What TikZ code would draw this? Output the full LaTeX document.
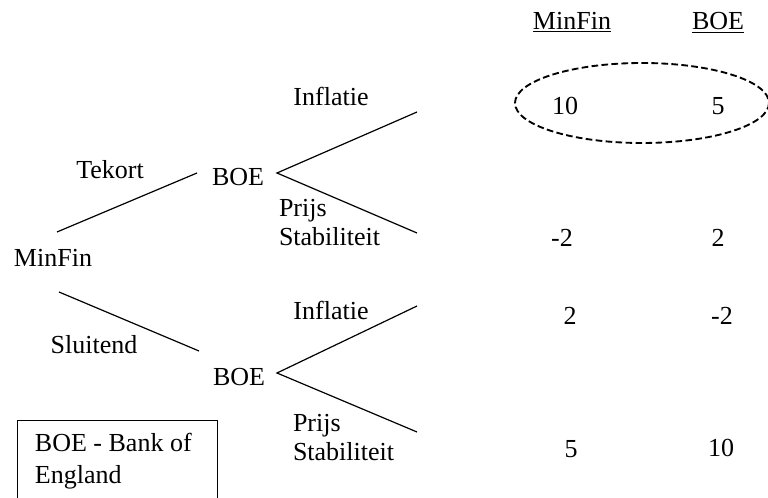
\documentclass[tikz,border=0pt]{standalone}
\usepackage{fontspec}
\setmainfont{Liberation Serif}
\begin{document}
\begin{tikzpicture}[x=0.75pt,y=-0.75pt,
  lbl/.style={inner sep=0pt, outer sep=0pt, font=\fontsize{19.5}{23}\selectfont, text height=0.66em, text depth=0pt, yshift=-3.2pt},
  branch/.style={line width=0.9pt},
  oval/.style={draw, dashed, dash pattern=on 5pt off 2.5pt, line width=1.4pt}
]
\useasboundingbox (0,0) rectangle (768,498);

% headers
\node[lbl] (hmf) at (572,21) {\underline{MinFin}};
\node[lbl] (hboe) at (718,21) {\underline{BOE}};

% players
\node[lbl] (mf) at (53,258) {MinFin};
\node[lbl] (b1) at (238,177) {BOE};
\node[lbl] (b2) at (239,377) {BOE};

% branch ends
\coordinate (t0) at (57,232);
\coordinate (t1) at (197,173);
\coordinate (s0) at (59,292);
\coordinate (s1) at (199,351);
\coordinate (a1) at (277,173);
\coordinate (a1u) at (417,112);
\coordinate (a1d) at (417,233);
\coordinate (a2) at (277,373);
\coordinate (a2u) at (417,306);
\coordinate (a2d) at (417,432);

\draw[branch] (t0) -- (t1);
\draw[branch] (s0) -- (s1);
\draw[branch] (a1u) -- (a1) -- (a1d);
\draw[branch] (a2u) -- (a2) -- (a2d);

% branch labels
\node[lbl] (tek) at (110,170) {Tekort};
\node[lbl] (slu) at (94,345) {Sluitend};
\node[lbl] (inf1) at (331,97) {Inflatie};
\node[lbl] (inf2) at (331,311) {Inflatie};
\node[lbl, anchor=west] (pr1) at (279,208) {Prijs};
\node[lbl, anchor=west] (st1) at (279,237) {Stabiliteit};
\node[lbl, anchor=west] (pr2) at (293,423) {Prijs};
\node[lbl, anchor=west] (st2) at (293,452) {Stabiliteit};

% payoffs
\node[lbl] (p11) at (565,106) {10};
\node[lbl] (p12) at (718,106) {5};
\node[lbl] (p21) at (562,238) {-2};
\node[lbl] (p22) at (718,238) {2};
\node[lbl] (p31) at (570,316) {2};
\node[lbl] (p32) at (722,316) {-2};
\node[lbl] (p41) at (571,449) {5};
\node[lbl] (p42) at (721,448) {10};

% equilibrium oval
\draw[oval] (642,103) ellipse [x radius=127, y radius=40];

% legend box
\node[draw, line width=1pt, minimum width=150pt, minimum height=75pt, anchor=north west, inner sep=0pt] (box) at (17,420) {};
\node[lbl, anchor=west] (lg1) at (35,443) {BOE - Bank of};
\node[lbl, anchor=west] (lg2) at (35,475) {England};
\end{tikzpicture}
\end{document}
